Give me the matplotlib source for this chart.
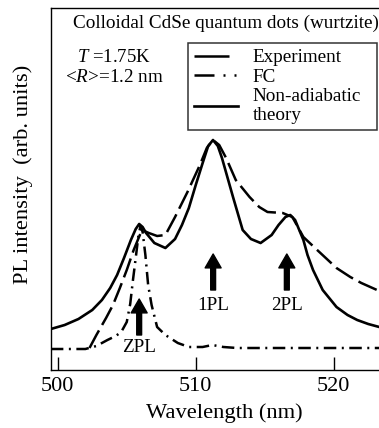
import matplotlib.pyplot as plt
from matplotlib.lines import Line2D

plt.rcParams['font.family'] = ['Liberation Serif', 'DejaVu Serif']
plt.rcParams['mathtext.fontset'] = 'custom'
plt.rcParams['mathtext.rm'] = 'Liberation Serif'
plt.rcParams['mathtext.it'] = 'Liberation Serif:italic'

# experiment (long dashes)
wl_exp = [502.3, 502.8, 503.5, 504.0, 504.5, 505.0, 505.5, 506.1, 506.6, 507.2, 507.8,
          508.5, 509.4, 510.3, 510.8, 511.25, 511.7, 512.2, 512.9, 513.9, 514.6, 515.2,
          516.3, 517.0, 517.8, 518.8, 520.2, 521.2, 522.0, 523.3]
pl_exp = [22, 35, 52, 65, 82, 100, 120, 140, 137, 134, 135,
          153, 178, 205, 222, 230, 225, 212, 190, 173, 163, 158,
          157, 153, 133, 120, 102, 93, 87, 79]

# Franck-Condon (dash-dot)
wl_fc = [499.5, 502.0, 502.8, 503.6, 504.2, 504.6, 505.0, 505.25, 505.45, 505.65, 505.85,
         506.0, 506.15, 506.35, 506.55, 506.8, 507.2, 507.8, 508.7, 509.5, 510.5,
         511.2, 512.0, 513.0, 523.3]
pl_fc = [21, 21, 24, 30, 34, 38, 48, 66, 90, 112, 135,
         144, 138, 115, 85, 65, 43, 35, 27, 23, 23,
         25, 23, 22, 22]

# non-adiabatic theory (solid)
wl_th = [499.5, 500.5, 501.5, 502.5, 503.2, 503.8, 504.3, 504.8, 505.3, 505.65, 505.9,
         506.15, 506.4, 507.0, 507.8, 508.5, 509.0, 509.5, 510.0, 510.5, 510.9, 511.25,
         511.6, 511.9, 512.7, 513.4, 514.0, 514.7, 515.5, 516.0, 516.5, 516.85, 517.2,
         517.8, 518.1, 518.5, 519.2, 520.2, 521.0, 521.7, 522.5, 523.3]
pl_th = [41, 45, 51, 60, 70, 82, 95, 112, 130, 141, 146,
         143, 137, 127, 122, 131, 145, 162, 185, 207, 224, 230,
         224, 212, 173, 140, 131, 127, 135, 145, 153, 155, 150,
         130, 115, 100, 80, 63, 55, 50, 46, 43]

peak_names = ['ZPL', '1PL', '2PL']
peak_wl = [505.9, 511.26, 516.6]
arrow_tip = [71, 116, 116]
arrow_base = [35, 80, 80]
label_y = [23, 65, 65]

fig = plt.figure(figsize=(3.79, 4.28), dpi=100)
ax = fig.add_axes([51 / 379, 58 / 428, 328 / 379, 362 / 428])

ax.plot(wl_exp, pl_exp, color='black', lw=1.8, dashes=(8, 2.5), label='Experiment')
ax.plot(wl_fc, pl_fc, color='black', lw=1.8, dashes=(5, 2.2, 0.8, 2.2), label='FC')
ax.plot(wl_th, pl_th, color='black', lw=1.9, label='Non-adiabatic\ntheory')

for name, w, tip, base, ly in zip(peak_names, peak_wl, arrow_tip, arrow_base, label_y):
    ax.annotate('', xy=(w, tip), xytext=(w, base),
                arrowprops=dict(width=3.5, headwidth=11.5, headlength=10,
                                color='black', shrink=0))
    ax.text(w, ly, name, ha='center', va='center', fontsize=13.8)

ax.set_xlim(499.51, 523.28)
ax.set_ylim(0, 362)
ax.set_xticks([500, 510, 520])
ax.set_yticks([])
ax.tick_params(axis='x', direction='in', length=9.5, width=1, labelsize=16, pad=5)
ax.spines['right'].set_visible(False)
for s in ['left', 'top', 'bottom']:
    ax.spines[s].set_linewidth(1)
ax.set_xlabel('Wavelength (nm)', fontsize=16.2)
ax.xaxis.set_label_coords(0.527, -0.093)
ax.set_ylabel('PL intensity  (arb. units)', fontsize=16.2)
ax.yaxis.set_label_coords(-0.055, 0.54)

ax.text(0.067, 0.9586, 'Colloidal CdSe quantum dots (wurtzite)', transform=ax.transAxes,
        fontsize=13.8, va='center', ha='left')
ax.text(0.079, 0.863, r'$T$ =1.75K', transform=ax.transAxes, fontsize=13.5, va='center')
ax.text(0.043, 0.809, r'<$R$>=1.2 nm', transform=ax.transAxes, fontsize=13.8, va='center')

handles = [Line2D([], [], color='black', lw=1.8, dashes=(14, 4)),
           Line2D([], [], color='black', lw=1.8, dashes=(8, 3.6, 0.8, 3.6, 0.8, 3.6)),
           Line2D([], [], color='black', lw=1.9)]
leg = ax.legend(handles, ['Experiment', 'FC', 'Non-adiabatic\ntheory'],
                loc='upper left', bbox_to_anchor=(0.418, 0.5, 0.576, 0.403),
                mode='expand', borderaxespad=0,
                fontsize=13.8, frameon=True, fancybox=False, handlelength=2.3,
                handletextpad=0.75, labelspacing=0.12, borderpad=0.3)
leg.get_frame().set_edgecolor('black')
leg.get_frame().set_linewidth(1.1)
for t in leg.get_texts():
    t.set_linespacing(1.12)

fig.savefig('out.png', dpi=100)
